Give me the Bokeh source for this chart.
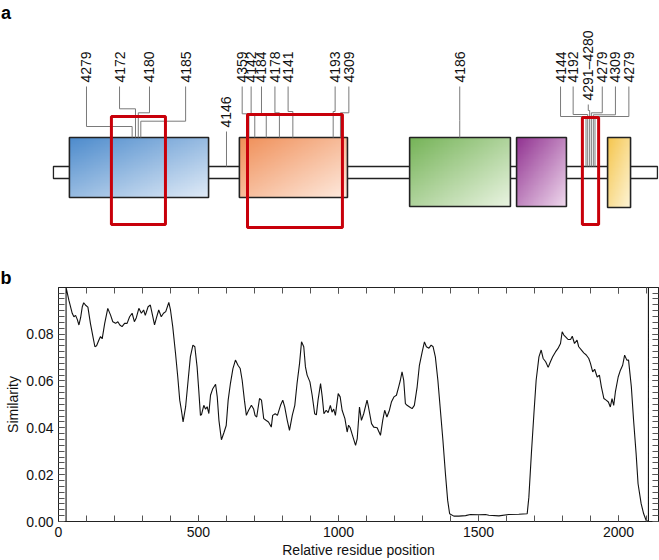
import numpy as np
from bokeh.plotting import figure
from bokeh.layouts import column
from bokeh.models import Range1d, LinearAxis, SingleIntervalTicker, PrintfTickFormatter, CustomJSTickFormatter
from bokeh.core.properties import value
from bokeh.embed import file_html
from bokeh.resources import INLINE

FONT = "Liberation Sans"

# ---------------- Panel a data (residue-scale positions; vertical in diagram units) ----------------
backbone = (-18, 2139)
domain_start = [39, 646, 1254, 1636, 1961]
domain_end = [536, 1032, 1614, 1814, 2043]
domain_bottom = [43, 43, 34, 34, 33]
domain_top = [103, 103, 103, 103, 103]

red_start = [189, 675, 1871]
red_end = [382, 1014, 1929]
red_bottom = [16, 13, 16]
red_top = [124, 126, 123]

site_labels = ["4279", "4172", "4180", "4185", "4146", "4359", "4142", "4184", "4178", "4141",
               "4193", "4309", "4186", "4144", "4192", "4291\u20134280", "4279", "4309", "4279"]
label_x = [100, 218, 325, 454, 600, 656, 688, 725, 773, 820,
           988, 1037, 1433, 1793, 1838, 1892, 1942, 1989, 2037]
label_y = [158, 158, 158, 158, 113, 158, 158, 158, 158, 158,
           158, 158, 158, 158, 158, 140, 158, 158, 158]
attach_x = [263, 275, 285, 294, 600, 680, 701, 742, 789, 837,
            981, 1007, 1433, 1884, 1890, 1897, 1903, 1910, 1916]
elbow_y = [114, 131.7, 127.7, 119.3, 109, 126.7, 126.7, 126.7, 127.7, 129,
           129, 127.7, 120, 124, 126, 130, 127.7, 125.7, 124]
end_y = [103, 103, 103, 103, 74, 103, 103, 103, 103, 103,
         103, 103, 103, 74, 74, 74, 74, 74, 74]

# ---------------- Panel b data ----------------
residue = [27, 27, 37, 49, 55, 61, 67, 73, 79, 85, 90, 98, 105, 114, 123, 130, 136, 144, 150, 156,
           165, 176, 186, 194, 204, 212, 219, 227, 236, 245, 254, 263, 271, 278, 287, 296, 304, 310,
           320, 328, 337, 343, 350, 358, 367, 375, 383, 394, 400, 408, 418, 426, 433, 439, 445, 454,
           463, 471, 480, 487, 495, 501, 507, 511, 519, 525, 531, 537, 543, 551, 561, 567, 573, 579,
           582, 591, 599, 606, 614, 623, 632, 641, 649, 656, 664, 671, 679, 689, 697, 702, 708, 718,
           725, 733, 741, 750, 760, 765, 774, 782, 793, 801, 808, 817, 825, 835, 844, 852, 861, 868,
           876, 882, 888, 898, 906, 915, 921, 927, 936, 942, 948, 956, 963, 971, 977, 983, 989, 999,
           1006, 1013, 1023, 1031, 1036, 1042, 1050, 1061, 1067, 1075, 1082, 1090, 1102, 1107, 1118,
           1126, 1138, 1150, 1158, 1165, 1173, 1182, 1189, 1198, 1207, 1215, 1221, 1227, 1233, 1239,
           1245, 1254, 1263, 1271, 1281, 1289, 1299, 1307, 1314, 1323, 1331, 1338, 1346, 1355, 1364,
           1373, 1382, 1390, 1397, 1412, 1430, 1454, 1471, 1501, 1525, 1537, 1573, 1608, 1644, 1674,
           1680, 1689, 1698, 1706, 1716, 1724, 1731, 1740, 1749, 1757, 1765, 1775, 1784, 1793, 1799,
           1805, 1813, 1820, 1829, 1835, 1843, 1852, 1858, 1868, 1876, 1885, 1894, 1900, 1908, 1915,
           1924, 1932, 1939, 1948, 1956, 1964, 1971, 1977, 1983, 1989, 1999, 2007, 2015, 2022, 2030,
           2036, 2046, 2054, 2063, 2070, 2081, 2090, 2099, 2107, 2107]
similarity = [0.0, 0.1000, 0.0945, 0.0889, 0.0874, 0.0880, 0.0863, 0.0839, 0.0870, 0.0917, 0.0934,
              0.0922, 0.0915, 0.0846, 0.0789, 0.0746, 0.0750, 0.0774, 0.0790, 0.0780, 0.0846, 0.0910,
              0.0881, 0.0853, 0.0846, 0.0853, 0.0839, 0.0832, 0.0846, 0.0846, 0.0874, 0.0889, 0.0853,
              0.0870, 0.0910, 0.0889, 0.0903, 0.0880, 0.0917, 0.0924, 0.0874, 0.0839, 0.0870, 0.0903,
              0.0874, 0.0889, 0.0896, 0.0935, 0.0903, 0.0832, 0.0717, 0.0617, 0.0518, 0.0475, 0.0425,
              0.0489, 0.0603, 0.0703, 0.0753, 0.0746, 0.0660, 0.0560, 0.0453, 0.0457, 0.0496, 0.0480,
              0.0490, 0.0461, 0.0539, 0.0567, 0.0586, 0.0532, 0.0432, 0.0375, 0.0349, 0.0380, 0.0410,
              0.0518, 0.0589, 0.0653, 0.0689, 0.0667, 0.0653, 0.0603, 0.0518, 0.0453, 0.0475, 0.0496,
              0.0480, 0.0453, 0.0446, 0.0525, 0.0518, 0.0439, 0.0432, 0.0425, 0.0403, 0.0453, 0.0460,
              0.0453, 0.0496, 0.0518, 0.0489, 0.0432, 0.0389, 0.0453, 0.0496, 0.0589, 0.0675, 0.0767,
              0.0746, 0.0660, 0.0625, 0.0596, 0.0539, 0.0460, 0.0455, 0.0518, 0.0589, 0.0532, 0.0460,
              0.0475, 0.0465, 0.0496, 0.0467, 0.0480, 0.0453, 0.0546, 0.0532, 0.0475, 0.0439, 0.0382,
              0.0411, 0.0400, 0.0368, 0.0325, 0.0354, 0.0489, 0.0432, 0.0460, 0.0518, 0.0490, 0.0418,
              0.0403, 0.0400, 0.0368, 0.0432, 0.0475, 0.0446, 0.0475, 0.0510, 0.0532, 0.0539, 0.0575,
              0.0603, 0.0639, 0.0603, 0.0503, 0.0496, 0.0489, 0.0482, 0.0496, 0.0575, 0.0667, 0.0724,
              0.0767, 0.0746, 0.0740, 0.0753, 0.0746, 0.0703, 0.0603, 0.0475, 0.0347, 0.0204, 0.0090,
              0.0033, 0.0023, 0.0023, 0.0025, 0.0030, 0.0029, 0.0030, 0.0027, 0.0024, 0.0030, 0.0031,
              0.0033, 0.0104, 0.0290, 0.0460, 0.0603, 0.0703, 0.0732, 0.0696, 0.0682, 0.0658, 0.0682,
              0.0703, 0.0724, 0.0739, 0.0760, 0.0810, 0.0796, 0.0786, 0.0777, 0.0777, 0.0791, 0.0760,
              0.0774, 0.0746, 0.0732, 0.0720, 0.0711, 0.0696, 0.0675, 0.0639, 0.0650, 0.0617, 0.0625,
              0.0575, 0.0525, 0.0518, 0.0510, 0.0489, 0.0525, 0.0496, 0.0553, 0.0617, 0.0646, 0.0667,
              0.0710, 0.0689, 0.0689, 0.0575, 0.0432, 0.0290, 0.0161, 0.0076, 0.0033, 0.0004, 0.0, 0.1000]

# ---------------- styles ----------------
sat_colors = [(78, 140, 205), (240, 143, 88), (118, 180, 88), (146, 52, 146), (245, 198, 78)]
light_colors = [(224, 235, 247), (254, 234, 222), (234, 244, 226), (240, 218, 238), (254, 246, 218)]


def gradient(c_sat, c_light, nx=80, ny=40):
    u = np.linspace(0, 1, nx)[None, :]
    v = np.linspace(0, 1, ny)[:, None]
    t = ((1 - u) + v) / 2.0
    img = np.empty((ny, nx), dtype=np.uint32)
    view = img.view(dtype=np.uint8).reshape((ny, nx, 4))
    for k in range(3):
        view[:, :, k] = np.clip(c_light[k] + (c_sat[k] - c_light[k]) * t, 0, 255).astype(np.uint8)
    view[:, :, 3] = 255
    return img


# ---------------- Panel a ----------------
pa = figure(width=659, height=232, x_range=Range1d(-207.1, 2146.4), y_range=Range1d(8, 240),
            output_backend="svg", toolbar_location=None, min_border=0,
            x_axis_location=None, y_axis_location=None)
pa.frame_align = False
pa.grid.visible = False
pa.outline_line_color = None

pa.quad(left=[backbone[0]], right=[backbone[1]], bottom=[62], top=[74],
        fill_color="white", line_color="#222222", line_width=1.3)

imgs = [gradient(s, l) for s, l in zip(sat_colors, light_colors)]
pa.image_rgba(image=imgs, x=domain_start,
              y=domain_bottom,
              dw=[e - s for s, e in zip(domain_start, domain_end)],
              dh=[t - b for b, t in zip(domain_bottom, domain_top)])
pa.quad(left=domain_start, right=domain_end, bottom=domain_bottom, top=domain_top,
        fill_alpha=0, line_color="#222222", line_width=1.6)

xs = [[lx, lx, ax, ax] for lx, ax in zip(label_x, attach_x)]
ys = [[ly - 4, ey, ey, en] for ly, ey, en in zip(label_y, elbow_y, end_y)]
pa.multi_line(xs=xs, ys=ys, line_color="#7a7a7a", line_width=1)

pa.quad(left=red_start, right=red_end, bottom=red_bottom, top=red_top,
        fill_alpha=0, line_color="#c8000a", line_width=3)

pa.text(x=label_x, y=label_y, text=site_labels, angle=np.pi / 2,
        text_align="left", text_baseline="middle",
        text_font=value(FONT), text_font_size="14px", text_color="#111111")

pa.text(x=[-205], y=[228], text=["a"], text_align="left", text_baseline="alphabetic",
        text_font=value(FONT), text_font_style="bold", text_font_size="18px", text_color="#000000")

# ---------------- Panel b ----------------
pb = figure(width=659, height=328, x_range=Range1d(0, 2143), y_range=Range1d(0, 0.0999),
            output_backend="svg", toolbar_location=None,
            min_border_left=58, min_border_right=1, min_border_top=55, min_border_bottom=39,
            x_axis_label="Relative residue position", y_axis_label="Similarity")
pb.frame_align = False
pb.grid.visible = False
pb.outline_line_color = "#222222"
pb.outline_line_width = 1

bottom_axis = pb.below[0]
left_axis = pb.left[0]
bottom_axis.ticker = SingleIntervalTicker(interval=500, num_minor_ticks=5)
left_axis.ticker = SingleIntervalTicker(interval=0.02, num_minor_ticks=8)
left_axis.formatter = PrintfTickFormatter(format="%.2f")

top_axis = LinearAxis(ticker=SingleIntervalTicker(interval=500, num_minor_ticks=5))
right_axis = LinearAxis(ticker=SingleIntervalTicker(interval=0.02, num_minor_ticks=8))
pb.add_layout(top_axis, "above")
pb.add_layout(right_axis, "right")

for ax in [bottom_axis, left_axis, top_axis, right_axis]:
    ax.major_tick_in = 6
    ax.major_tick_out = 0
    ax.minor_tick_in = 6
    ax.minor_tick_out = 0
    ax.major_tick_line_color = "#333333"
    ax.minor_tick_line_color = "#555555"
    ax.axis_line_color = "#222222"
    ax.major_label_text_font = FONT
    ax.major_label_text_font_size = "14px"
    ax.major_label_text_color = "#111111"
    ax.axis_label_text_font = FONT
    ax.axis_label_text_font_size = "14px"
    ax.axis_label_text_font_style = "normal"
    ax.axis_label_text_color = "#111111"

for ax in [top_axis, right_axis]:
    ax.formatter = CustomJSTickFormatter(code="return ''")
    ax.major_label_text_font_size = "1px"
    ax.major_label_standoff = 0
    ax.axis_label_standoff = 0

bottom_axis.major_label_standoff = 5
left_axis.major_label_standoff = 5
bottom_axis.axis_label_standoff = 2
left_axis.axis_label_standoff = 2

pb.title.text = "b"
pb.title.align = "left"
pb.title.offset = -58
pb.title.standoff = 0
pb.title.text_font = FONT
pb.title.text_font_size = "18px"
pb.title.text_font_style = "bold"
pb.title.text_color = "#000000"

pb.line(residue, similarity, line_color="#111111", line_width=1.1)

layout = column(pa, pb)
open("out.html", "w").write(file_html(layout, INLINE))
